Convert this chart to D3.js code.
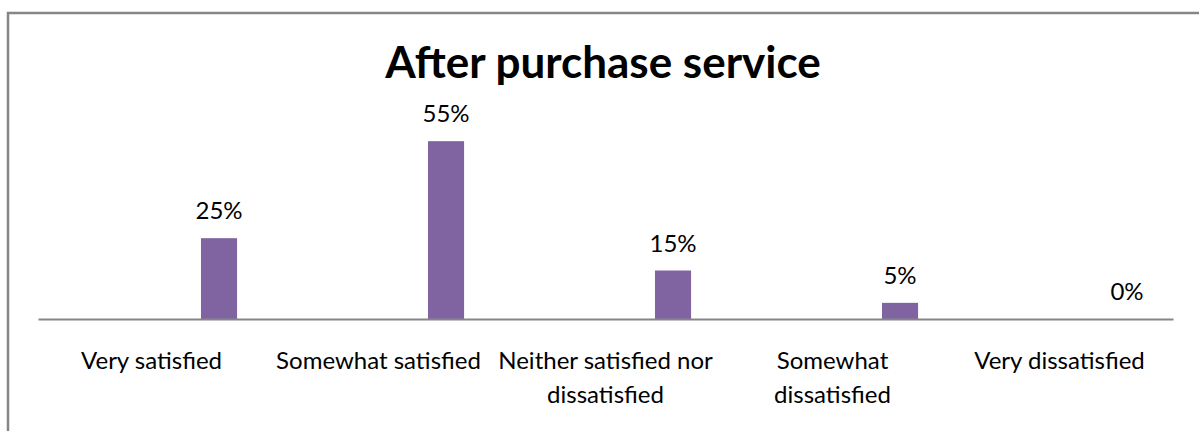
<!DOCTYPE html>
<html>
<head>
<meta charset="utf-8">
<script src="https://cdn.jsdelivr.net/npm/d3@7"></script>
<style>
  html, body { margin: 0; padding: 0; background: #ffffff; }
  svg { display: block; }
  text { font-family: Lato, "Open Sans", sans-serif; fill: #000; }
</style>
</head>
<body>
<svg id="chart" width="1199" height="431"></svg>
<script>
// Survey results: satisfaction with after-purchase service
const categories = ["Very satisfied", "Somewhat satisfied", "Neither satisfied nor dissatisfied", "Somewhat dissatisfied", "Very dissatisfied"];
const tickLabels = [["Very satisfied"], ["Somewhat satisfied"], ["Neither satisfied nor", "dissatisfied"], ["Somewhat", "dissatisfied"], ["Very dissatisfied"]];
const values = [25, 55, 15, 5, 0];
const title = "After purchase service";

const svg = d3.select("#chart");
const W = 1199, H = 431;

// chart frame (its right and bottom edges run past the visible area)
svg.append("rect")
  .attr("x", 8).attr("y", 13)
  .attr("width", W + 20).attr("height", H + 20)
  .attr("fill", "none")
  .attr("stroke", "#868686")
  .attr("stroke-width", 2.5);

svg.append("text")
  .attr("x", 603).attr("y", 78)
  .attr("text-anchor", "middle")
  .style("font-size", "44px")
  .style("font-weight", "bold")
  .text(title);

const x = d3.scaleBand().domain(categories).range([38, 1173]).padding(0);
const y = d3.scaleLinear().domain([0, 60]).range([319, 125]);

const bw = x.bandwidth();
const barOffset = bw * 0.718;
const barWidth = bw * 0.159;

svg.append("g").selectAll("rect")
  .data(categories)
  .join("rect")
  .attr("x", (d) => x(d) + barOffset)
  .attr("y", (d, i) => y(values[i]))
  .attr("width", barWidth)
  .attr("height", (d, i) => y(0) - y(values[i]))
  .attr("fill", "#8064A2");

svg.append("g").selectAll("text")
  .data(categories)
  .join("text")
  .attr("x", (d) => x(d) + barOffset + barWidth / 2)
  .attr("y", (d, i) => y(values[i]) - 19)
  .attr("text-anchor", "middle")
  .style("font-size", "24px")
  .text((d, i) => values[i] + "%");

// category axis
const axis = d3.axisBottom(x).tickSize(0).tickFormat("");
const gAxis = svg.append("g").attr("transform", `translate(0,${y(0)})`).call(axis);
gAxis.select(".domain").attr("stroke", "#868686").attr("stroke-width", 2);

gAxis.selectAll(".tick").each(function (d, i) {
  const t = d3.select(this).append("text")
    .attr("text-anchor", "middle")
    .attr("y", 50)
    .style("font-size", "24px")
    .style("fill", "#000");
  tickLabels[i].forEach((line, k) => {
    t.append("tspan").attr("x", 0).attr("dy", k === 0 ? 0 : 34).text(line);
  });
});
</script>
</body>
</html>
